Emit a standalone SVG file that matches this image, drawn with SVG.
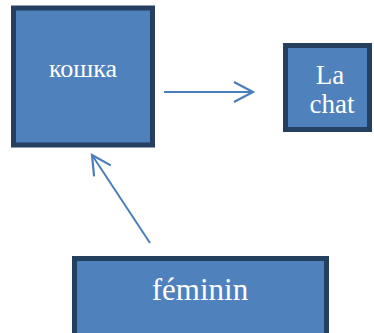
<svg xmlns="http://www.w3.org/2000/svg" width="374" height="333" viewBox="0 0 374 333">
<defs>
<style>
.box{fill:#4F81BD;stroke:#243F60;stroke-width:5}
.lbl{fill:#FFFFFF;text-anchor:middle;font-family:"Liberation Serif",serif}
.conn{stroke:#4A7EBB;stroke-width:2;fill:none}
</style>
<marker id="arr" viewBox="0 0 24 24" refX="21" refY="12" markerWidth="24" markerHeight="24" markerUnits="userSpaceOnUse" orient="auto">
<path d="M2,2 L21,12 L2,22" fill="none" stroke="#4A7EBB" stroke-width="2.2"/>
</marker>
</defs>
<g id="node-koshka">
<rect class="box" x="13.5" y="8" width="139" height="137"/>
<text class="lbl" x="83" y="77" font-size="26">кошка</text>
</g>
<g id="node-lachat">
<rect class="box" x="285.5" y="45.5" width="84" height="84"/>
<text class="lbl" x="330" y="84" font-size="27">La</text>
<text class="lbl" x="332" y="113" font-size="27">chat</text>
</g>
<g id="node-feminin">
<rect class="box" x="74.5" y="258.5" width="252" height="80"/>
<text class="lbl" x="200" y="300" font-size="31">féminin</text>
</g>
<g id="connectors">
<line class="conn" x1="164" y1="92" x2="253" y2="92" marker-end="url(#arr)"/>
<line class="conn" x1="150" y1="243" x2="92" y2="155" marker-end="url(#arr)"/>
</g>
</svg>
